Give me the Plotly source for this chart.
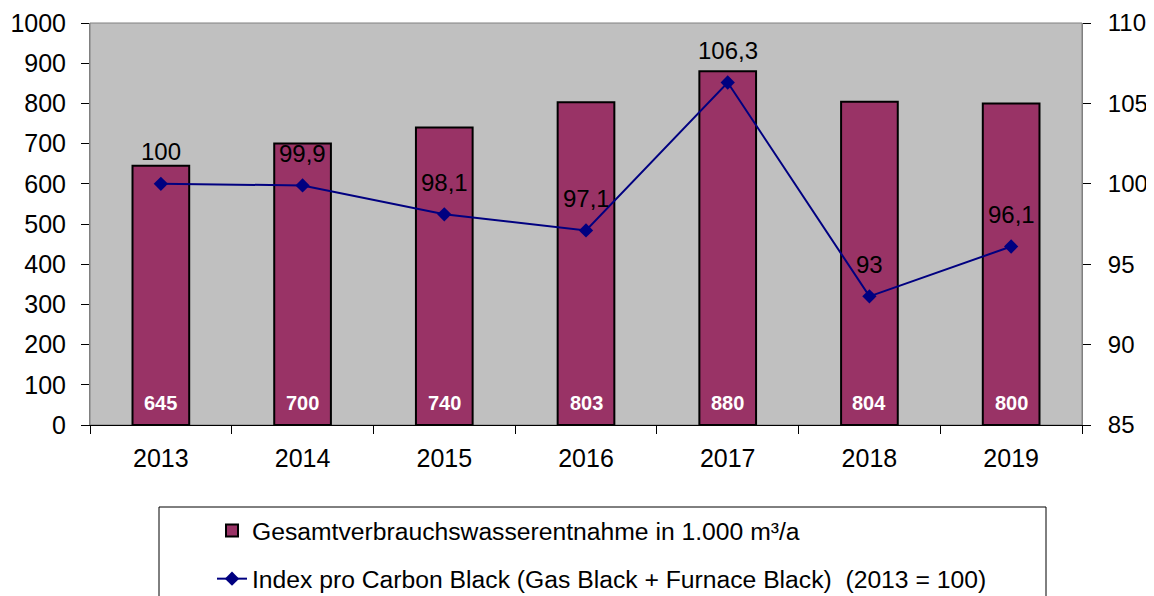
import plotly.graph_objects as go

years = ["2013", "2014", "2015", "2016", "2017", "2018", "2019"]
water = [645, 700, 740, 803, 880, 804, 800]
index_vals = [100, 99.9, 98.1, 97.1, 106.3, 93, 96.1]
index_labels = ["100", "99,9", "98,1", "97,1", "106,3", "93", "96,1"]

bar_name = "Gesamtverbrauchswasserentnahme in 1.000 m³/a"
line_name = "Index pro Carbon Black (Gas Black + Furnace Black)  (2013 = 100)"

FONT = "Liberation Sans, Arial, sans-serif"

# page has an 8px body margin; compensate so the plot lands where the reference's does
OFF = 8
W, H = 1154 - OFF, 596 - OFF
PL, PR, PT, PB = 90, 1082, 23, 425  # plot area in page pixels
PW, PH = PR - PL, PB - PT


def py(yp):
    return (PB - yp) / PH


def px(xp):
    return (xp - PL) / PW


fig = go.Figure()
fig.add_trace(go.Bar(
    x=years, y=water, name=bar_name, width=0.4,
    marker=dict(color="#993366", line=dict(color="black", width=2)),
    legendgroup="a", yaxis="y",
))
fig.add_trace(go.Scatter(
    x=years, y=index_vals, name=line_name, mode="lines+markers",
    line=dict(color="#000080", width=2),
    marker=dict(symbol="diamond", size=11, color="#000080"),
    legendgroup="b", yaxis="y2",
))

annotations = []
for i, v in enumerate(water):
    annotations.append(dict(x=i, y=55, xref="x", yref="y", text="<b>%d</b>" % v,
                            showarrow=False, font=dict(family=FONT, size=20, color="white")))
for i, (v, t) in enumerate(zip(index_vals, index_labels)):
    annotations.append(dict(x=i, y=v, xref="x", yref="y2", text=t, yshift=32,
                            showarrow=False, font=dict(family=FONT, size=24, color="black")))

fig.update_layout(
    width=W, height=H,
    margin=dict(l=PL - OFF, r=W - (PR - OFF), t=PT - OFF, b=H - (PB - OFF), autoexpand=False),
    paper_bgcolor="white", plot_bgcolor="#C0C0C0",
    font=dict(family=FONT, size=24, color="black"),
    bargap=0.6,
    xaxis=dict(type="category", tickson="boundaries", ticks="outside", ticklen=8,
               tickcolor="black", showline=True, linecolor="black", linewidth=1,
               showgrid=False, tickfont=dict(size=25), ticklabelstandoff=11,
               range=[-0.5, 6.5], automargin=False),
    yaxis=dict(range=[0, 1000], dtick=100, ticks="outside", ticklen=8, tickcolor="black",
               showline=True, linecolor="#808080", linewidth=1, showgrid=False,
               zeroline=False, tickfont=dict(size=25), ticklabelstandoff=10, automargin=False),
    yaxis2=dict(range=[85, 110], dtick=5, overlaying="y", side="right", ticks="outside",
                ticklen=8, tickcolor="black", showline=True, linecolor="#808080",
                linewidth=1, showgrid=False, zeroline=False, tickfont=dict(size=24),
                ticklabelstandoff=12, automargin=False),
    legend=dict(x=px(212), y=py(508), xanchor="left", yanchor="top",
                bgcolor="rgba(0,0,0,0)", borderwidth=0, traceorder="grouped",
                tracegroupgap=13, font=dict(family=FONT, size=24.7)),
    showlegend=True,
    annotations=annotations,
    shapes=[
        dict(type="rect", xref="paper", yref="paper", x0=0, x1=1, y0=0, y1=1,
             line=dict(color="#808080", width=1), fillcolor="rgba(0,0,0,0)", layer="below"),
        dict(type="rect", xref="paper", yref="paper",
             x0=px(159), x1=px(1046), y0=py(610), y1=py(507),
             line=dict(color="black", width=1), fillcolor="white", layer="below"),
    ],
)

fig.write_html("out.html")
